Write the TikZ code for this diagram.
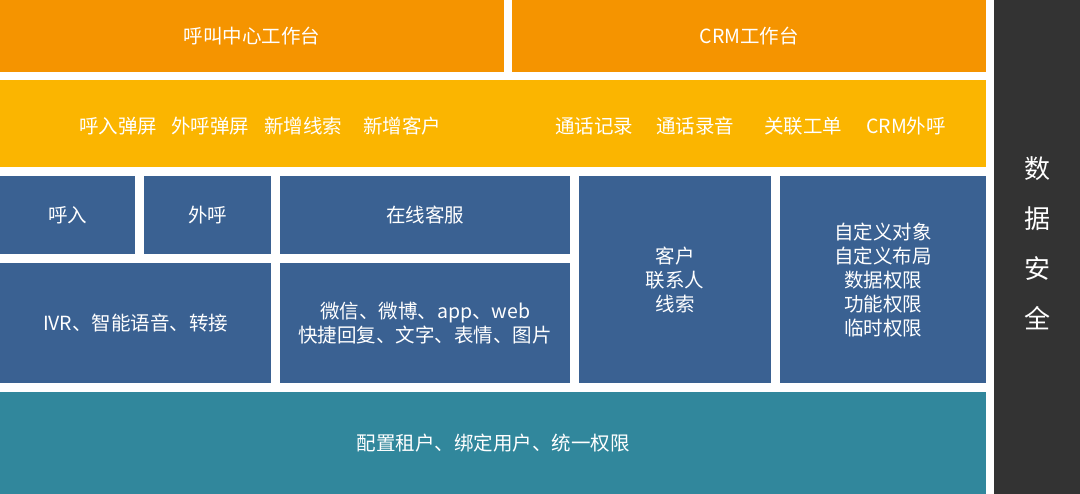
\documentclass[tikz,border=0pt]{standalone}
\usepackage{fontspec}
\setmainfont{Noto Sans CJK SC}
\usetikzlibrary{positioning}
\definecolor{orangetop}{HTML}{F59400}
\definecolor{yellowband}{HTML}{FBB500}
\definecolor{bluebox}{HTML}{3A6192}
\definecolor{tealbox}{HTML}{31879C}
\definecolor{darkside}{HTML}{333333}
\tikzset{
  block/.style={anchor=north west,inner sep=0pt,text=white,align=center,
    font=\fontsize{19.5}{24}\selectfont},
  bandtext/.style={text=white,font=\fontsize{19.5}{24}\selectfont}
}

\begin{document}
\begin{tikzpicture}[x=1pt,y=-1pt]
  \useasboundingbox (0,0) rectangle (1080,494);
  \fill[white] (0,0) rectangle (1080,494);

  % top row
  \node[block,fill=orangetop,minimum width=504,minimum height=72] (callcenter) at (0,0) {呼叫中心工作台};
  \node[block,fill=orangetop,minimum width=474,minimum height=72] (crmdesk) at (512,0) {CRM工作台};

  % yellow band
  \node[block,fill=yellowband,minimum width=986,minimum height=87] (band) at (0,80) {};
  \node[bandtext] (popin) at (118,126) {呼入弹屏};
  \node[bandtext] (popout) at (210,126) {外呼弹屏};
  \node[bandtext] (newlead) at (303,126) {新增线索};
  \node[bandtext] (newcust) at (402,126) {新增客户};
  \node[bandtext] (callrec) at (594,126) {通话记录};
  \node[bandtext] (callaudio) at (695,126) {通话录音};
  \node[bandtext] (ticket) at (803,126) {关联工单};
  \node[bandtext] (crmout) at (906,126) {CRM外呼};

  % blue blocks
  \node[block,fill=bluebox,minimum width=135,minimum height=78] (inbound) at (0,176) {呼入};
  \node[block,fill=bluebox,minimum width=127,minimum height=78] (outbound) at (144,176) {外呼};
  \node[block,fill=bluebox,minimum width=290,minimum height=78] (online) at (280,176) {在线客服};
  \node[block,fill=bluebox,minimum width=271,minimum height=120] (ivr) at (0,263) {IVR、智能语音、转接};
  \node[block,fill=bluebox,minimum width=290,minimum height=120] (channels) at (280,263) {微信、微博、app、web\\快捷回复、文字、表情、图片};
  \node[block,fill=bluebox,minimum width=192,minimum height=207] (customer) at (579,176) {客户\\联系人\\线索};
  \node[block,fill=bluebox,minimum width=206,minimum height=207] (custom) at (780,176) {自定义对象\\自定义布局\\数据权限\\功能权限\\临时权限};

  % bottom
  \node[block,fill=tealbox,minimum width=986,minimum height=102] (tenant) at (0,392) {配置租户、绑定用户、统一权限};

  % side
  \node[block,fill=darkside,minimum width=86,minimum height=494] (security) at (994,0) {};
  \node[bandtext,font=\fontsize{26}{50}\selectfont,align=center] (securitytext) at (1037,243) {数\\据\\安\\全};
\end{tikzpicture}
\end{document}
